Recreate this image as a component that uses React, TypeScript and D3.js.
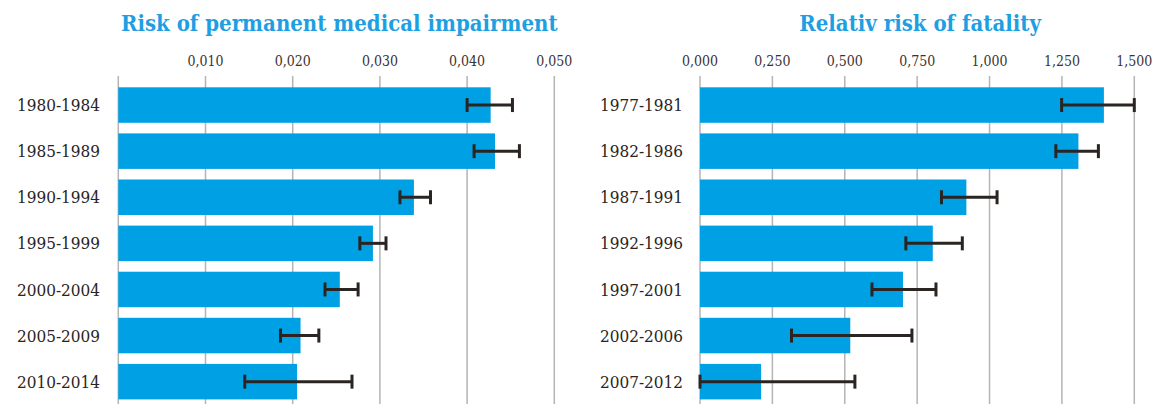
import React from 'react';
import * as d3 from 'd3';

// chart data
const impairmentPeriods = ['1980-1984', '1985-1989', '1990-1994', '1995-1999', '2000-2004', '2005-2009', '2010-2014'];
const impairmentValues = [0.0427, 0.0432, 0.0339, 0.0292, 0.0254, 0.0209, 0.0205];
const impairmentLow = [0.0400, 0.0408, 0.0323, 0.0277, 0.0237, 0.0186, 0.0145];
const impairmentHigh = [0.0452, 0.0460, 0.0358, 0.0307, 0.0275, 0.0230, 0.0268];
const impairmentTicks = [0, 0.01, 0.02, 0.03, 0.04, 0.05];
const impairmentTickLabels = ['', '0,010', '0,020', '0,030', '0,040', '0,050'];

const fatalityPeriods = ['1977-1981', '1982-1986', '1987-1991', '1992-1996', '1997-2001', '2002-2006', '2007-2012'];
const fatalityValues = [1.395, 1.307, 0.920, 0.804, 0.701, 0.519, 0.211];
const fatalityLow = [1.249, 1.229, 0.834, 0.711, 0.594, 0.316, 0.0];
const fatalityHigh = [1.500, 1.376, 1.026, 0.906, 0.815, 0.732, 0.535];
const fatalityTicks = [0, 0.25, 0.5, 0.75, 1.0, 1.25, 1.5];
const fatalityTickLabels = ['0,000', '0,250', '0,500', '0,750', '1,000', '1,250', '1,500'];

const BLUE = '#00a0e4';
const TITLE_BLUE = '#1e9fe2';
const INK = '#2a2422';

type PanelProps = {
  title: string;
  periods: string[];
  values: number[];
  low: number[];
  high: number[];
  ticks: number[];
  tickLabels: string[];
  x0: number;
  x1: number;
  labelRight: number;
};

const Panel = ({ title, periods, values, low, high, ticks, tickLabels, x0, x1, labelRight }: PanelProps) => {
  const x = d3.scaleLinear().domain([0, ticks[ticks.length - 1]]).range([x0, x1]);
  const y = d3.scaleBand().domain(periods).range([82, 404.7]).paddingInner(0.23).paddingOuter(0.115);
  const bw = y.bandwidth();
  const capH = 14;

  return (
    <g>
      <text x={(x0 + x1) / 2 + 3} y={31} textAnchor="middle" fontFamily="DejaVu Serif Condensed" fontWeight="bold"
        fontSize={22} fill={TITLE_BLUE}>{title}</text>

      {ticks.map((t, i) => (
        <g key={'t' + i}>
          <line x1={x(t)} x2={x(t)} y1={76} y2={404} stroke="#b4b4b4" strokeWidth={1.5} />
          <text x={x(t)} y={66} textAnchor="middle" fontFamily="DejaVu Serif Condensed" fontSize={14}
            fill="#3a3331">{tickLabels[i]}</text>
        </g>
      ))}

      {periods.map((p, i) => {
        const yc = (y(p) as number) + bw / 2;
        return (
          <g key={p}>
            <rect x={x(0)} y={y(p)} width={x(values[i]) - x(0)} height={bw} fill={BLUE} />
            <text x={labelRight} y={yc} dy="0.36em" textAnchor="end" fontFamily="DejaVu Serif Condensed"
              fontSize={17} fill={INK}>{p}</text>
            <line x1={x(low[i])} x2={x(high[i])} y1={yc} y2={yc} stroke={INK} strokeWidth={3} />
            <line x1={x(low[i])} x2={x(low[i])} y1={yc - capH / 2} y2={yc + capH / 2} stroke={INK} strokeWidth={3} />
            <line x1={x(high[i])} x2={x(high[i])} y1={yc - capH / 2} y2={yc + capH / 2} stroke={INK} strokeWidth={3} />
          </g>
        );
      })}
    </g>
  );
};

export default function App() {
  return (
    <svg width={1158} height={404} style={{ position: 'absolute', left: 0, top: 0, background: '#fff' }}>
      <Panel title="Risk of permanent medical impairment" periods={impairmentPeriods} values={impairmentValues}
        low={impairmentLow} high={impairmentHigh} ticks={impairmentTicks} tickLabels={impairmentTickLabels}
        x0={118.3} x1={554.3} labelRight={100} />
      <Panel title="Relativ risk of fatality" periods={fatalityPeriods} values={fatalityValues}
        low={fatalityLow} high={fatalityHigh} ticks={fatalityTicks} tickLabels={fatalityTickLabels}
        x0={700} x1={1134.3} labelRight={683} />
    </svg>
  );
}
